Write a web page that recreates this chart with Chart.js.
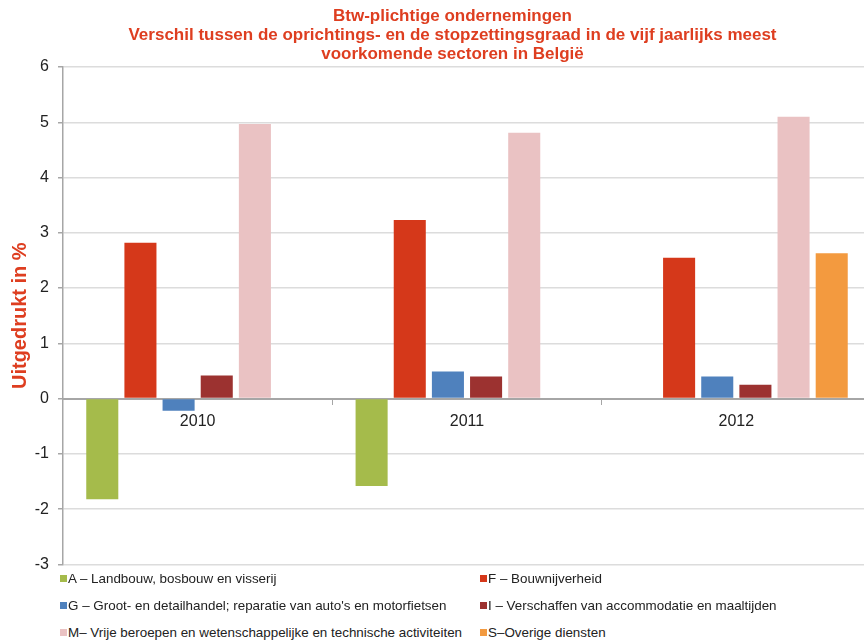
<!DOCTYPE html>
<html>
<head>
<meta charset="utf-8">
<script src="https://cdn.jsdelivr.net/npm/chart.js@4.4.1/dist/chart.umd.min.js"></script>
<style>
    body { margin: 0; background: #fff; width: 864px; height: 640px; overflow: hidden; font-family: "Liberation Sans", Arial, sans-serif; }
    #wrap { position: relative; width: 905px; height: 583px; }
    #title { position: absolute; left: 0; top: 6px; width: 905px; text-align: center; color: #de3e20; font-weight: bold; font-size: 17px; line-height: 19px; }
    #legend { position: absolute; left: 0; top: 571px; width: 864px; }
    .item { position: absolute; font-size: 13.4px; color: #222; white-space: nowrap; line-height: 16px; }
    .item span { display: inline-block; width: 7px; height: 7px; margin-right: 1px; vertical-align: 1px; }
</style>
</head>
<body>
<div id="wrap"><canvas id="chart" width="905" height="583"></canvas>
<div id="title">Btw-plichtige ondernemingen<br>Verschil tussen de oprichtings- en de stopzettingsgraad in de vijf jaarlijks meest<br>voorkomende sectoren in Belgi&euml;</div>
</div>
<div id="legend"></div>
<script>
var categories = ['2010', '2011', '2012'];
var seriesNames = [
    'A \u2013 Landbouw, bosbouw en visserij',
    'F \u2013 Bouwnijverheid',
    'G \u2013 Groot- en detailhandel; reparatie van auto\'s en motorfietsen',
    'I \u2013 Verschaffen van accommodatie en maaltijden',
    'M\u2013 Vrije beroepen en wetenschappelijke en technische activiteiten',
    'S\u2013Overige diensten'
];
var valuesA = [-1.82, -1.58, null];
var valuesF = [2.82, 3.23, 2.55];
var valuesG = [-0.22, 0.49, 0.40];
var valuesI = [0.42, 0.40, 0.25];
var valuesM = [4.97, 4.81, 5.10];
var valuesS = [null, null, 2.63];
var yTicks = [-3, -2, -1, 0, 1, 2, 3, 4, 5, 6];

var colors = ['#a5bb4b', '#d5381a', '#4f81bd', '#9c3230', '#eac2c3', '#f39a3f'];
var allValues = [valuesA, valuesF, valuesG, valuesI, valuesM, valuesS];
var red = '#de3e20';

var datasets = [];
for (var i = 0; i < allValues.length; i++) {
    datasets.push({
        label: seriesNames[i],
        data: allValues[i],
        backgroundColor: colors[i],
        borderWidth: 0,
        categoryPercentage: 0.85,
        barPercentage: 0.84
    });
}

var ctx = document.getElementById('chart').getContext('2d');
var myChart = new Chart(ctx, {
    type: 'bar',
    data: { labels: categories, datasets: datasets },
    options: {
        responsive: false,
        animation: false,
        // title is the html block above the canvas, so keep room for it
        layout: { padding: { left: 0, right: 34, top: 67, bottom: 6 } },
        plugins: {
            legend: { display: false },
            tooltip: { enabled: false },
            title: { display: false }
        },
        scales: {
            x: {
                position: { y: 0 },
                grid: { drawOnChartArea: false, drawTicks: true, tickLength: 5, color: '#a6a6a6', offset: true },
                border: { display: true, color: '#a6a6a6', width: 2 },
                ticks: { color: '#222', padding: 8, font: { family: 'Liberation Sans', size: 16 } }
            },
            y: {
                min: -3,
                max: 6,
                afterFit: function(scale) { scale.width = 63; },
                afterBuildTicks: function(scale) {
                    scale.ticks = yTicks.map(function(v) { return { value: v }; });
                },
                grid: {
                    color: function(c) { return c.tick && c.tick.value === 0 ? 'rgba(0,0,0,0)' : '#dcdcdc'; },
                    lineWidth: 1.5,
                    tickColor: '#a6a6a6',
                    tickLength: 5
                },
                border: { display: true, color: '#a6a6a6', width: 1.5 },
                ticks: { color: '#222', padding: 9, font: { family: 'Liberation Sans', size: 16 } },
                title: {
                    display: true,
                    text: 'Uitgedrukt in %',
                    color: red,
                    font: { family: 'Liberation Sans', size: 20, weight: 'bold' },
                    padding: { top: 8, bottom: 0 }
                }
            }
        }
    }
});

// legend in two columns, built from the datasets
var legendPos = [[60, 0], [480, 0], [60, 27], [480, 27], [60, 54], [480, 54]];
var legendDiv = document.getElementById('legend');
myChart.data.datasets.forEach(function(ds, i) {
    var el = document.createElement('div');
    el.className = 'item';
    el.style.left = legendPos[i][0] + 'px';
    el.style.top = legendPos[i][1] + 'px';
    el.innerHTML = "<span style='background:" + ds.backgroundColor + "'></span>" + ds.label;
    legendDiv.appendChild(el);
});
</script>
</body>
</html>
